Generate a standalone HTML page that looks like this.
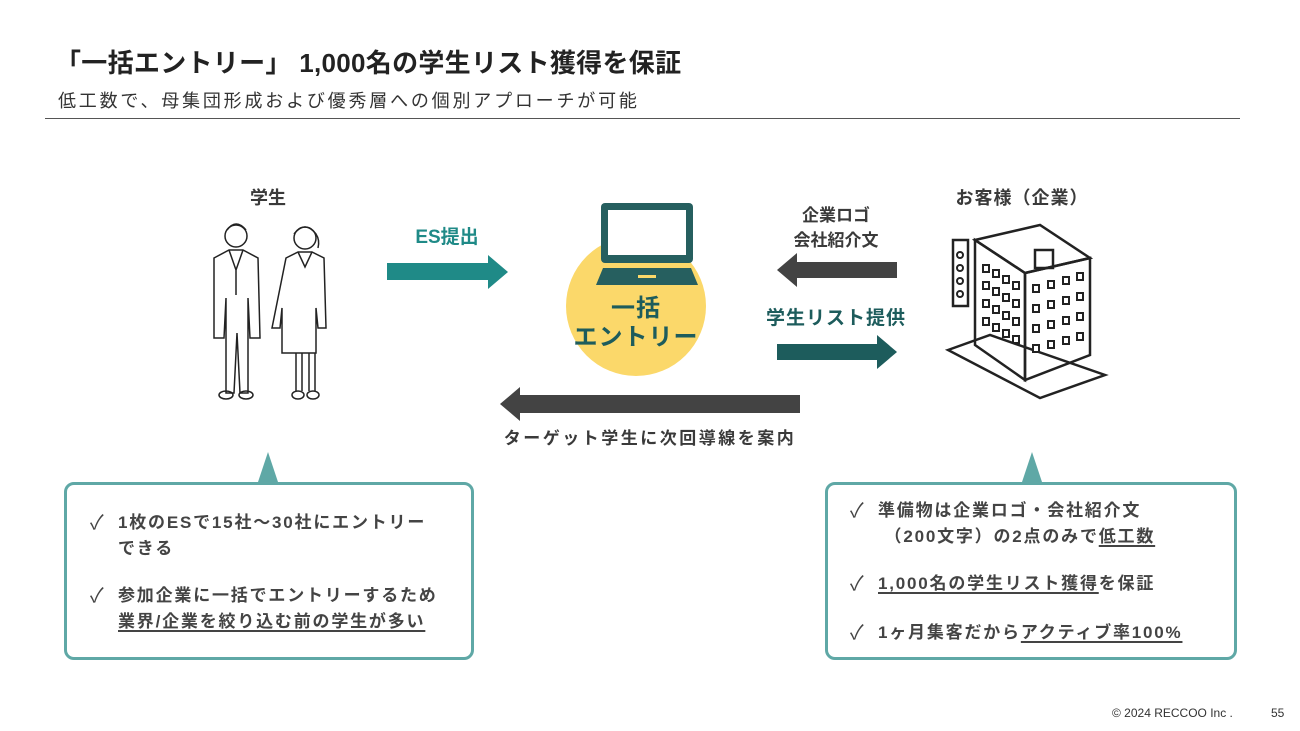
<!DOCTYPE html>
<html><head><meta charset="utf-8"><style>
body{margin:0;width:1300px;height:731px;background:#fff;position:relative;overflow:hidden;font-family:"Liberation Sans","Noto Sans CJK JP",sans-serif;color:#3a3a3a}
.a{position:absolute;white-space:nowrap}
.b{font-weight:bold}
.c{text-align:center;transform:translateX(-50%)}
.box{position:absolute;border:3px solid #5fa8a6;border-radius:10px;background:#fff}
.li{position:absolute;font-size:17px;font-weight:bold;color:#444;line-height:26px;letter-spacing:1.8px}
.ck{position:absolute;left:-28px;top:0;font-weight:normal;font-size:20px}
u{text-decoration-thickness:2px;text-underline-offset:3px}
</style></head><body>
<div class="a b" style="left:55px;top:43px;font-size:26px;color:#222;letter-spacing:0.3px">「一括エントリー」 1,000名の学生リスト獲得を保証</div>
<div class="a" style="left:58px;top:87px;font-size:18px;color:#333;letter-spacing:2.8px">低工数で、母集団形成および優秀層への個別アプローチが可能</div>
<div class="a" style="left:45px;top:118px;width:1195px;height:1px;background:#555"></div>

<svg class="a" style="left:0;top:0" width="1300" height="731">
<polygon points="387,263 488,263 488,255 508,272 488,289 488,280 387,280" fill="#1f8a87"/>
<polygon points="897,262 797,262 797,253 777,270 797,287 797,278 897,278" fill="#434343"/>
<polygon points="777,344 877,344 877,335 897,352 877,369 877,360 777,360" fill="#1d5c5c"/>
<polygon points="800,395 520,395 520,387 500,404 520,421 520,413 800,413" fill="#434343"/>
<circle cx="636" cy="306" r="70" fill="#fbd86a"/>
<rect x="601" y="203" width="92" height="60" rx="4" fill="#265f5f"/>
<rect x="608" y="210" width="78" height="45" fill="#fff"/>
<polygon points="603,268 691,268 698,285 596,285" fill="#265f5f"/>
<rect x="638" y="275" width="18" height="3" fill="#fbd86a"/>
<polygon points="268,452 258,482 278,482" fill="#5fa8a6"/>
<polygon points="1032,452 1022,482 1042,482" fill="#5fa8a6"/>
<g fill="none" stroke="#222" stroke-width="1.5">
<circle cx="236" cy="236" r="11"/><path d="M227,230 q9,-12 19,0"/>
<path d="M214,258 l15,-8 h14 l15,8 l2,80 h-10 l-2,-40 v95 h-8 l-3,-60 l-3,60 h-8 v-95 l-2,40 h-10z"/>
<path d="M229,250 l7,20 l7,-20 M236,270 v25"/>
<ellipse cx="226" cy="395" rx="7" ry="4"/><ellipse cx="246" cy="395" rx="7" ry="4"/>
<circle cx="305" cy="238" r="11"/><path d="M294,234 q11,-14 22,0 q4,6 2,14"/>
<path d="M286,258 l12,-6 h14 l12,6 l2,70 h-8 l-2,-20 v45 h-34 v-45 l-2,20 h-8z"/>
<path d="M298,252 l7,15 l7,-15"/>
<path d="M296,353 v38 M302,353 v38 M309,353 v38 M315,353 v38"/>
<ellipse cx="298" cy="395" rx="6" ry="4"/><ellipse cx="313" cy="395" rx="6" ry="4"/>
</g>
<g fill="none" stroke="#222" stroke-width="2.5">
<polygon points="975,240 1040,225 1090,258 1025,273"/>
<polygon points="975,240 1025,273 1025,380 975,345"/>
<polygon points="1025,273 1090,258 1090,355 1025,380"/>
<rect x="953" y="240" width="15" height="66"/>
<rect x="1035" y="250" width="18" height="18"/>
<polygon points="948,350 990,335 1105,375 1040,398"/>
</g>
<g fill="none" stroke="#222" stroke-width="2">
<circle cx="960" cy="255" r="3"/><circle cx="960" cy="268" r="3"/><circle cx="960" cy="281" r="3"/><circle cx="960" cy="294" r="3"/>
</g>
<g fill="#fff" stroke="#222" stroke-width="2">
<rect x="983" y="265" width="6" height="7"/><rect x="993" y="270" width="6" height="7"/><rect x="1003" y="276" width="6" height="7"/><rect x="1013" y="282" width="6" height="7"/>
<rect x="983" y="282" width="6" height="7"/><rect x="993" y="288" width="6" height="7"/><rect x="1003" y="294" width="6" height="7"/><rect x="1013" y="300" width="6" height="7"/>
<rect x="983" y="300" width="6" height="7"/><rect x="993" y="306" width="6" height="7"/><rect x="1003" y="312" width="6" height="7"/><rect x="1013" y="318" width="6" height="7"/>
<rect x="983" y="318" width="6" height="7"/><rect x="993" y="324" width="6" height="7"/><rect x="1003" y="330" width="6" height="7"/><rect x="1013" y="336" width="6" height="7"/>
<rect x="1033" y="285" width="6" height="7"/><rect x="1048" y="281" width="6" height="7"/><rect x="1063" y="277" width="6" height="7"/><rect x="1077" y="273" width="6" height="7"/>
<rect x="1033" y="305" width="6" height="7"/><rect x="1048" y="301" width="6" height="7"/><rect x="1063" y="297" width="6" height="7"/><rect x="1077" y="293" width="6" height="7"/>
<rect x="1033" y="325" width="6" height="7"/><rect x="1048" y="321" width="6" height="7"/><rect x="1063" y="317" width="6" height="7"/><rect x="1077" y="313" width="6" height="7"/>
<rect x="1033" y="345" width="6" height="7"/><rect x="1048" y="341" width="6" height="7"/><rect x="1063" y="337" width="6" height="7"/><rect x="1077" y="333" width="6" height="7"/>
</g>
</svg>

<div class="a b c" style="left:268px;top:184px;font-size:18px">学生</div>
<div class="a b c" style="left:447px;top:222px;font-size:19px;color:#1f8a87">ES提出</div>
<div class="a b c" style="left:636px;top:294px;font-size:24px;color:#1d5c5c;line-height:29px;text-align:center;letter-spacing:1px">一括<br>エントリー</div>
<div class="a b c" style="left:836px;top:203px;font-size:17px;line-height:25px;text-align:center">企業ロゴ<br>会社紹介文</div>
<div class="a b c" style="left:1022px;top:184px;font-size:18px;letter-spacing:1px">お客様（企業）</div>
<div class="a b c" style="left:836px;top:303px;font-size:19px;color:#1d5c5c;letter-spacing:1px">学生リスト提供</div>
<div class="a b c" style="left:650px;top:424px;font-size:17px;letter-spacing:2.5px">ターゲット学生に次回導線を案内</div>

<div class="box" style="left:64px;top:482px;width:404px;height:172px"></div>
<div class="li" style="left:118px;top:510px"><span class="ck">✓</span>1枚のESで15社〜30社にエントリー<br>できる</div>
<div class="li" style="left:118px;top:583px"><span class="ck">✓</span>参加企業に一括でエントリーするため<br><u>業界/企業を絞り込む前の学生が多い</u></div>

<div class="box" style="left:825px;top:482px;width:406px;height:172px"></div>
<div class="li" style="left:878px;top:498px"><span class="ck">✓</span>準備物は企業ロゴ・会社紹介文<br>&nbsp;（200文字）の2点のみで<u>低工数</u></div>
<div class="li" style="left:878px;top:571px"><span class="ck">✓</span><u>1,000名の学生リスト獲得</u>を保証</div>
<div class="li" style="left:878px;top:620px"><span class="ck">✓</span>1ヶ月集客だから<u>アクティブ率100%</u></div>

<div class="a" style="left:1112px;top:706px;font-size:12px;color:#333">© 2024 RECCOO Inc .</div>
<div class="a" style="left:1271px;top:706px;font-size:12px;color:#333">55</div>
</body></html>
